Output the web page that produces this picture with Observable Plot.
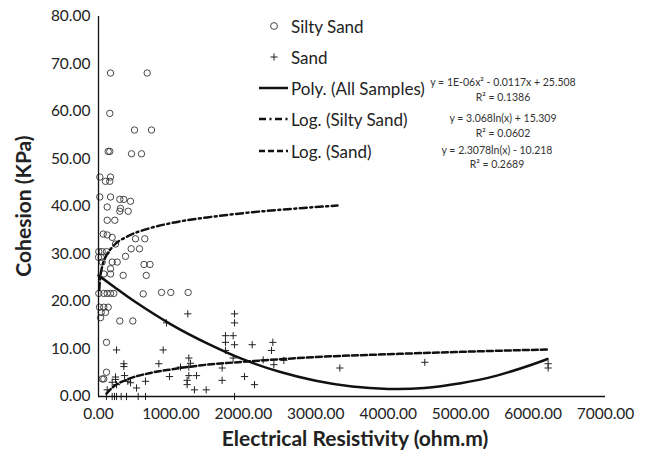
<!DOCTYPE html>
<html><head><meta charset="utf-8">
<script src="https://cdn.jsdelivr.net/npm/d3@7"></script>
<script src="https://cdn.jsdelivr.net/npm/@observablehq/plot@0.6"></script>
<style>
body{margin:0;background:#fff;}
#wrap{position:relative;width:646px;height:456px;font-family:Lato,sans-serif;}
#wrap svg.overlay{position:absolute;left:0;top:0;pointer-events:none;}
</style></head><body><div id="wrap"></div>
<script>
// ---- tick labels ----
const xTicks = [0, 1000, 2000, 3000, 4000, 5000, 6000, 7000];
const yTicks = [0, 10, 20, 30, 40, 50, 60, 70, 80];

// ---- Silty Sand (circles) ----
const siltyX = [166, 672, 156, 134, 156, 456, 594, 497, 732, 18, 166, 97, 156, 18, 166, 294, 349, 442, 120, 304, 294, 410, 120, 225, 65, 120, 189, 511, 639, 235, 451, 566, 4, 51, 110, 373, 0, 37, 51, 189, 258, 628, 711, 166, 73, 166, 341, 659, 4, 73, 120, 166, 211, 617, 870, 998, 1238, 14, 73, 134, 37, 97, 28, 294, 474, 110, 110, 51, 73];
const siltyY = [68.1, 68.1, 59.6, 51.6, 51.6, 51.1, 51.1, 56.1, 56.1, 46.2, 46.2, 45.3, 45.3, 42.0, 42.0, 41.5, 41.5, 41.1, 39.9, 39.6, 39.0, 39.0, 37.1, 37.1, 34.2, 34.0, 33.5, 33.2, 33.2, 32.1, 31.1, 31.1, 30.5, 30.5, 30.5, 29.5, 29.3, 29.3, 28.3, 28.3, 28.3, 27.8, 27.8, 26.9, 25.8, 25.8, 25.5, 25.5, 21.7, 21.7, 21.7, 21.7, 21.7, 21.6, 21.9, 21.9, 21.9, 18.8, 18.8, 18.8, 17.7, 17.7, 16.6, 15.9, 15.9, 11.4, 5.1, 3.7, 3.7];

// ---- Sand (plus) ----
const sandX = [1233, 1878, 1878, 939, 1753, 1859, 1753, 1878, 2122, 2407, 2389, 249, 893, 1247, 1753, 1270, 833, 350, 350, 359, 1859, 2274, 2421, 1707, 1132, 1247, 980, 1247, 1353, 1224, 1224, 1325, 1487, 1707, 2016, 2154, 1878, 649, 525, 235, 235, 189, 249, 405, 442, 120, 110, 189, 221, 249, 313, 387, 548, 649, 2559, 3332, 4505, 6208, 6208];
const sandY = [17.4, 17.4, 15.5, 15.5, 12.8, 12.8, 11.4, 10.9, 10.9, 11.4, 9.7, 9.8, 9.8, 8.1, 9.7, 7.0, 6.9, 6.9, 6.3, 4.4, 8.1, 7.7, 6.7, 6.0, 6.2, 6.2, 4.2, 4.4, 4.4, 3.4, 2.5, 1.4, 1.4, 3.4, 4.2, 2.5, 0, 3.2, 1.8, 4.1, 3.6, 3.0, 2.5, 3.2, 2.9, 1.4, 0, 0, 0, 0, 0, 0, 0, 0, 7.6, 6.0, 7.2, 6.9, 6.0];

// ---- trend lines ----
const polyX = [0, 250, 500, 1000, 1500, 2000, 2500, 3000, 3500, 4000, 4500, 5000, 5500, 6000, 6200];
const polyY = [25.5, 22.7, 20.0, 15.2, 11.2, 7.8, 5.2, 3.3, 2.1, 1.6, 1.8, 2.8, 4.4, 6.8, 7.9];
const logSiltyX = [10, 20, 50, 100, 200, 400, 700, 1000, 1500, 2000, 2500, 3300];
const logSiltyY = [22.4, 24.5, 27.3, 29.4, 31.6, 33.7, 35.4, 36.5, 37.7, 38.6, 39.3, 40.2];
const logSandX = [110, 200, 400, 700, 1000, 1500, 2000, 3000, 4000, 5000, 6200];
const logSandY = [0.6, 2.0, 3.6, 4.9, 5.7, 6.7, 7.3, 8.3, 8.9, 9.4, 9.9];

// ---- legend / equations text ----
const legendLabels = ["Silty Sand", "Sand", "Poly. (All Samples)", "Log. (Silty Sand)", "Log. (Sand)"];
const equations = [["y = 1E-06x² - 0.0117x + 25.508", "R² = 0.1386"], ["y = 3.068ln(x) + 15.309", "R² = 0.0602"], ["y = 2.3078ln(x) - 10.218", "R² = 0.2689"]];
const xTitle = "Electrical Resistivity (ohm.m)";
const yTitle = "Cohesion (KPa)";

const pts = (xs, ys) => xs.map((x, i) => ({x, y: ys[i]}));
const silty = pts(siltyX, siltyY);
const sand = pts(sandX, sandY);
const poly = pts(polyX, polyY);
const logSilty = pts(logSiltyX, logSiltyY);
const logSand = pts(logSandX, logSandY);

const plusSymbol = {
  draw(ctx, size) {
    const r = Math.sqrt(size / Math.PI);
    ctx.moveTo(-r, 0); ctx.lineTo(r, 0);
    ctx.moveTo(0, -r); ctx.lineTo(0, r);
  }
};

const DASHDOT = "7,3.5,2,3.5";
const DASH = "6,3";

const chart = Plot.plot({
  width: 646, height: 456,
  marginLeft: 98, marginRight: 41, marginTop: 16, marginBottom: 60,
  style: {fontFamily: "Lato, sans-serif", fontSize: "15.5px", color: "#222", background: "white"},
  x: {domain: [0, 7000], axis: null},
  y: {domain: [0, 80], axis: null},
  marks: [
    Plot.axisX(xTicks, {tickSize: 0, tickPadding: 11, tickFormat: d => d.toFixed(2), label: null, fontSize: 15.5}),
    Plot.axisY(yTicks, {tickSize: 0, tickPadding: 8, tickFormat: d => d.toFixed(2), label: null, fontSize: 15.5}),
    Plot.dot(silty, {x: "x", y: "y", r: 3.2, stroke: "#333", strokeWidth: 0.9, fill: "none"}),
    Plot.dot(sand, {x: "x", y: "y", r: 3.6, symbol: plusSymbol, stroke: "#222", strokeWidth: 1, fill: "none"}),
    Plot.line(poly, {x: "x", y: "y", stroke: "#111", strokeWidth: 2.5, curve: "natural"}),
    Plot.line(logSilty, {x: "x", y: "y", stroke: "#111", strokeWidth: 2.5, strokeDasharray: DASHDOT, curve: "monotone-x"}),
    Plot.line(logSand, {x: "x", y: "y", stroke: "#111", strokeWidth: 2.5, strokeDasharray: DASH, curve: "monotone-x"}),
    Plot.ruleX([0], {y1: 0, y2: 80, stroke: "#111", strokeWidth: 1.3}),
    Plot.ruleY([0], {x1: 0, x2: 7000, stroke: "#111", strokeWidth: 1.3})
  ]
});

const wrap = document.getElementById("wrap");
wrap.appendChild(chart);

// overlay: legend, equations, axis titles
const ns = "http://www.w3.org/2000/svg";
const ov = document.createElementNS(ns, "svg");
ov.setAttribute("class", "overlay");
ov.setAttribute("width", 646); ov.setAttribute("height", 456);
wrap.appendChild(ov);
function el(tag, attrs, text) {
  const e = document.createElementNS(ns, tag);
  for (const k in attrs) e.setAttribute(k, attrs[k]);
  if (text != null) e.textContent = text;
  ov.appendChild(e);
  return e;
}
const legY = [26, 57, 88, 119, 151];
el("circle", {cx: 274, cy: legY[0], r: 3.4, fill: "none", stroke: "#333", "stroke-width": 0.9});
el("path", {d: `M270.4,${legY[1]}H277.6M274,${legY[1]-3.6}V${legY[1]+3.6}`, stroke: "#222", "stroke-width": 1});
el("line", {x1: 259, x2: 288, y1: legY[2], y2: legY[2], stroke: "#111", "stroke-width": 2.5});
el("line", {x1: 259, x2: 288, y1: legY[3], y2: legY[3], stroke: "#111", "stroke-width": 2.5, "stroke-dasharray": DASHDOT});
el("line", {x1: 259, x2: 288, y1: legY[4], y2: legY[4], stroke: "#111", "stroke-width": 2.5, "stroke-dasharray": DASH});
legendLabels.forEach((t, i) => {
  el("text", {x: 291, y: legY[i], "dominant-baseline": "central", "font-family": "Lato, sans-serif", "font-size": 17, fill: "#222"}, t);
});
const eqPos = [[503, 82, 97], [503, 118, 133], [497, 150, 164]];
equations.forEach((eq, i) => {
  const [cx, y1, y2] = eqPos[i];
  el("text", {x: cx, y: y1, "text-anchor": "middle", "dominant-baseline": "central", "font-family": "Lato, sans-serif", "font-size": 10.5, fill: "#333"}, eq[0]);
  el("text", {x: cx, y: y2, "text-anchor": "middle", "dominant-baseline": "central", "font-family": "Lato, sans-serif", "font-size": 10.5, fill: "#333"}, eq[1]);
});
el("text", {x: 355, y: 437, "text-anchor": "middle", "dominant-baseline": "central", "font-family": "Lato, sans-serif", "font-size": 21, "font-weight": "bold", fill: "#222"}, xTitle);
el("text", {x: 0, y: 0, transform: "translate(22,206) rotate(-90)", "text-anchor": "middle", "dominant-baseline": "central", "font-family": "Lato, sans-serif", "font-size": 21, "font-weight": "bold", fill: "#222"}, yTitle);
</script>
</body></html>
